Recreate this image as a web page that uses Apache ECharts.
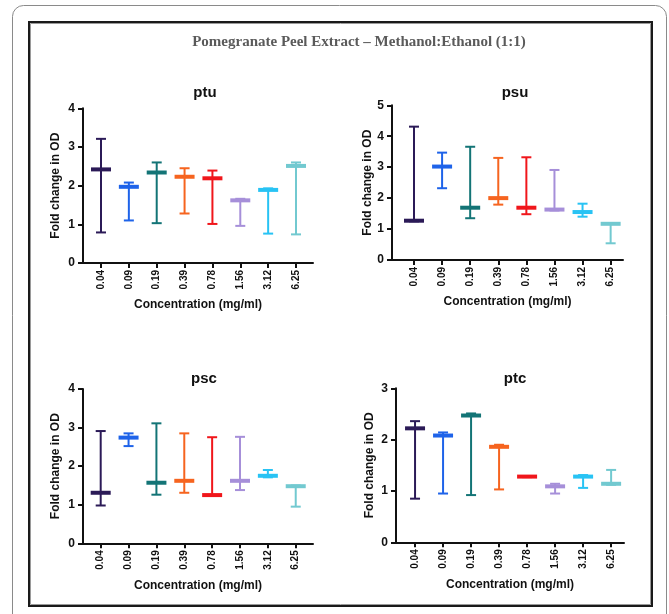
<!DOCTYPE html>
<html>
<head>
<meta charset="utf-8">
<title>Pomegranate Peel Extract – Methanol:Ethanol (1:1)</title>
<script src="https://cdn.jsdelivr.net/npm/echarts@6/dist/echarts.min.js"></script>
<style>
  html, body { margin: 0; padding: 0; background: #ffffff; }
  #chart { width: 669px; height: 614px; }
</style>
</head>
<body>
<div id="chart"></div>
<script>
// Concentrations tested (mg/ml) and the colour used for each one
const concentrations = ['0.04', '0.09', '0.19', '0.39', '0.78', '1.56', '3.12', '6.25'];
const barColors = ['#2b1a57', '#1e63e9', '#137476', '#f6641f', '#f0161b', '#a68fd9', '#28c3f4', '#72c9d0'];

// Fold change in OD: lower whisker, central value, upper whisker
const ptuLow  = [0.79, 1.10, 1.03, 1.28, 1.01, 0.96, 0.76, 0.74];
const ptuMid  = [2.42, 1.97, 2.34, 2.23, 2.19, 1.62, 1.89, 2.51];
const ptuHigh = [3.21, 2.08, 2.60, 2.45, 2.39, 1.66, 1.93, 2.60];

const psuLow  = [1.25, 2.32, 1.35, 1.79, 1.48, 1.60, 1.40, 0.54];
const psuMid  = [1.27, 3.02, 1.69, 2.00, 1.69, 1.63, 1.55, 1.17];
const psuHigh = [4.31, 3.47, 3.66, 3.30, 3.32, 2.91, 1.82, 1.19];

const pscLow  = [0.98, 2.52, 1.26, 1.31, 1.23, 1.38, 1.71, 0.95];
const pscMid  = [1.31, 2.74, 1.57, 1.62, 1.25, 1.62, 1.75, 1.48];
const pscHigh = [2.91, 2.85, 3.11, 2.85, 2.75, 2.76, 1.90, 1.50];

const ptcLow  = [0.85, 0.95, 0.92, 1.03, 1.27, 0.95, 1.06, 1.12];
const ptcMid  = [2.22, 2.08, 2.47, 1.86, 1.28, 1.09, 1.28, 1.14];
const ptcHigh = [2.36, 2.14, 2.51, 1.90, 1.29, 1.14, 1.31, 1.41];

// Y axis limits per panel
const ptuTicksMax = 4;
const psuTicksMax = 5;
const pscTicksMax = 4;
const ptcTicksMax = 3;

const panels = [
  { name: 'ptu', low: ptuLow, mid: ptuMid, high: ptuHigh, yMax: ptuTicksMax,
    grid: { left: 83, right: 356, top: 108.3, bottom: 351 }, xMin: -0.646, xMax: 7.61,
    titleX: 200, titleY: 80, yNameGap: 21 },
  { name: 'psu', low: psuLow, mid: psuMid, high: psuHigh, yMax: psuTicksMax,
    grid: { left: 392, right: 46, top: 105.3, bottom: 354 }, xMin: -0.783, xMax: 7.44,
    titleX: 510, titleY: 80, yNameGap: 16 },
  { name: 'psc', low: pscLow, mid: pscMid, high: pscHigh, yMax: pscTicksMax,
    grid: { left: 83, right: 356, top: 389, bottom: 70.7 }, xMin: -0.635, xMax: 7.62,
    titleX: 199, titleY: 366, yNameGap: 21 },
  { name: 'ptc', low: ptcLow, mid: ptcMid, high: ptcHigh, yMax: ptcTicksMax,
    grid: { left: 396, right: 45, top: 388.3, bottom: 71.7 }, xMin: -0.68, xMax: 7.46,
    titleX: 510, titleY: 366, yNameGap: 20 }
];

const FONT = '"Liberation Sans", Arial, sans-serif';
const AXIS_COLOR = '#111111';

// Whisker plot: vertical range line, caps at both ends and a thick bar at the central value
function renderWhisker(params, api) {
  const x = api.value(0);
  const pLo = api.coord([x, api.value(1)]);
  const pMid = api.coord([x, api.value(2)]);
  const pHi = api.coord([x, api.value(3)]);
  const color = barColors[params.dataIndex];
  const capHalf = 5;
  const barHalf = 10;
  const lineStyle = { stroke: color, lineWidth: 2 };
  return {
    type: 'group',
    children: [
      { type: 'line', shape: { x1: pLo[0], y1: pLo[1], x2: pHi[0], y2: pHi[1] }, style: lineStyle },
      { type: 'line', shape: { x1: pHi[0] - capHalf, y1: pHi[1], x2: pHi[0] + capHalf, y2: pHi[1] }, style: lineStyle },
      { type: 'line', shape: { x1: pLo[0] - capHalf, y1: pLo[1], x2: pLo[0] + capHalf, y2: pLo[1] }, style: lineStyle },
      { type: 'rect', shape: { x: pMid[0] - barHalf, y: pMid[1] - 2, width: barHalf * 2, height: 4 },
        style: { fill: color } }
    ]
  };
}

const option = {
  backgroundColor: '#ffffff',
  animation: false,
  title: panels.map(p => ({
    text: p.name,
    left: p.titleX,
    top: p.titleY,
    textAlign: 'center',
    textStyle: { fontFamily: FONT, fontWeight: 'bold', fontSize: 15, color: '#111111' }
  })),
  grid: panels.map(p => Object.assign({}, p.grid)),
  xAxis: panels.map((p, i) => ({
    type: 'value',
    gridIndex: i,
    min: p.xMin,
    max: p.xMax,
    name: 'Concentration (mg/ml)',
    nameLocation: 'middle',
    nameGap: 36,
    nameTextStyle: { fontFamily: FONT, fontWeight: 'bold', fontSize: 12, color: AXIS_COLOR },
    splitLine: { show: false },
    axisLine: { show: true, onZero: false, lineStyle: { color: AXIS_COLOR, width: 2 } },
    axisTick: { show: true, length: 5, lineStyle: { color: AXIS_COLOR, width: 2 },
      customValues: concentrations.map((_, k) => k) },
    axisLabel: {
      rotate: 90,
      margin: 7,
      fontFamily: FONT, fontWeight: 'bold', fontSize: 10, color: AXIS_COLOR,
      customValues: concentrations.map((_, k) => k),
      formatter: v => concentrations[Math.round(v)]
    }
  })),
  yAxis: panels.map((p, i) => ({
    type: 'value',
    gridIndex: i,
    min: 0,
    max: p.yMax,
    interval: 1,
    name: 'Fold change in OD',
    nameLocation: 'middle',
    nameGap: p.yNameGap,
    nameTextStyle: { fontFamily: FONT, fontWeight: 'bold', fontSize: 12, color: AXIS_COLOR },
    splitLine: { show: false },
    axisLine: { show: true, onZero: false, lineStyle: { color: AXIS_COLOR, width: 2 } },
    axisTick: { show: true, length: 5, lineStyle: { color: AXIS_COLOR, width: 2 } },
    axisLabel: { margin: 8, fontFamily: FONT, fontWeight: 'bold', fontSize: 12, color: AXIS_COLOR }
  })),
  series: panels.map((p, i) => ({
    type: 'custom',
    name: p.name,
    xAxisIndex: i,
    yAxisIndex: i,
    renderItem: renderWhisker,
    encode: { x: 0, y: [1, 2, 3] },
    data: concentrations.map((_, k) => [k, p.low[k], p.mid[k], p.high[k]])
  })),
  graphic: [
    { type: 'rect', silent: true, z: -10,
      shape: { x: 12.5, y: 5.5, width: 654, height: 650, r: 11 },
      style: { fill: 'none', stroke: '#8a8a8a', lineWidth: 1 } },
    { type: 'rect', silent: true, z: -10,
      shape: { x: 29, y: 22, width: 623, height: 584 },
      style: { fill: 'none', stroke: '#1a1a1a', lineWidth: 2 } },
    { type: 'rect', silent: true, z: -10,
      shape: { x: 30.5, y: 23.5, width: 620, height: 581 },
      style: { fill: 'none', stroke: '#9a9a9a', lineWidth: 1 } },
    { type: 'text', silent: true,
      style: { text: 'Pomegranate Peel Extract – Methanol:Ethanol (1:1)',
        x: 359, y: 42, align: 'center', verticalAlign: 'middle',
        font: 'bold 15px "Liberation Serif", "Times New Roman", serif', fill: '#5a5a5a' } }
  ]
};

const chart = echarts.init(document.getElementById('chart'), null, { renderer: 'canvas' });
chart.setOption(option);
</script>
</body>
</html>
